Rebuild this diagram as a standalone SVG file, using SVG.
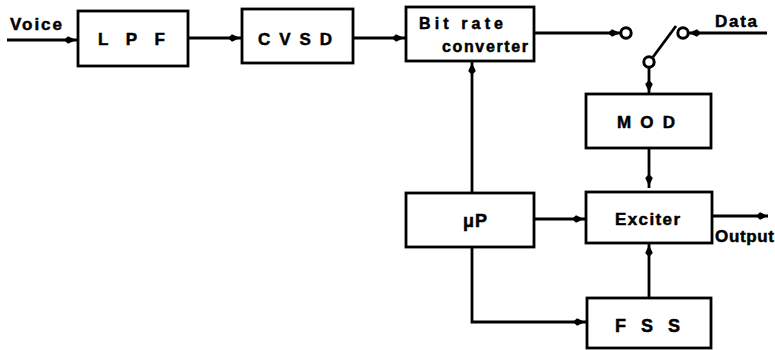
<svg xmlns="http://www.w3.org/2000/svg" width="775" height="350" viewBox="0 0 775 350">
  <style>
    .box { fill: #fff; stroke: #000; stroke-width: 2.8; }
    .lbl { font-family: "Liberation Sans", Arial, sans-serif; font-weight: bold; fill: #000; stroke: #000; stroke-width: 0.5; }
    .ln { fill: none; stroke: #000; stroke-width: 2.8; }
    .arr { fill: none; stroke: #000; stroke-width: 2.8; marker-end: url(#ah); }
    .arr0 { fill: none; stroke: #000; stroke-width: 2.8; marker-end: url(#ah0); }
    .term { fill: #fff; stroke: #000; stroke-width: 3; }
  </style>
  <defs>
    <marker id="ah" markerUnits="userSpaceOnUse" viewBox="-2 -6 18 12" refX="14" refY="0" markerWidth="18" markerHeight="12" orient="auto">
      <path d="M0,0 L4,-3.8 L12,0 L4,3.8 Z" fill="#000"/>
    </marker>
    <marker id="ah0" markerUnits="userSpaceOnUse" viewBox="-2 -6 18 12" refX="12" refY="0" markerWidth="18" markerHeight="12" orient="auto">
      <path d="M0,0 L4,-3.8 L12,0 L4,3.8 Z" fill="#000"/>
    </marker>
  </defs>
  <rect width="775" height="350" fill="#fff"/>

  <g id="connectors">
    <line class="arr" x1="7" y1="40" x2="78" y2="40"/>
    <line class="arr" x1="188" y1="38" x2="242" y2="38"/>
    <line class="arr" x1="353" y1="38" x2="406" y2="38"/>
    <line class="arr0" x1="534" y1="33" x2="620" y2="33"/>
    <line class="arr0" x1="767" y1="33" x2="689" y2="33"/>
    <line class="ln" x1="653" y1="57" x2="676" y2="26"/>
    <line class="arr" x1="649" y1="67" x2="649" y2="94"/>
    <line class="arr" x1="472" y1="193" x2="472" y2="61"/>
    <line class="arr" x1="649" y1="148" x2="649" y2="188"/>
    <line class="arr" x1="534" y1="219" x2="586" y2="219"/>
    <line class="arr0" x1="712" y1="216" x2="768" y2="216"/>
    <line class="arr" x1="649" y1="298" x2="649" y2="243"/>
    <polyline class="arr" points="472,247 472,322 587,322"/>
    <circle class="term" cx="626" cy="33" r="5.2"/>
    <circle class="term" cx="683" cy="33" r="5.2"/>
    <circle class="term" cx="649" cy="62" r="5.2"/>
  </g>

  <g id="lpf">
    <rect class="box" x="78" y="11" width="110" height="55"/>
    <text class="lbl" x="98" y="45" font-size="17" textLength="67" lengthAdjust="spacing">L P F</text>
  </g>
  <g id="cvsd">
    <rect class="box" x="242" y="9" width="111" height="54"/>
    <text class="lbl" x="258" y="45" font-size="17" textLength="74" lengthAdjust="spacing">CVSD</text>
  </g>
  <g id="bitrate">
    <rect class="box" x="406" y="7" width="128" height="54"/>
    <text class="lbl" x="419" y="29" font-size="16" textLength="84" lengthAdjust="spacing">Bit rate</text>
    <text class="lbl" x="442" y="52" font-size="16" textLength="86" lengthAdjust="spacing">converter</text>
  </g>
  <g id="mod">
    <rect class="box" x="586" y="94" width="125" height="54"/>
    <text class="lbl" x="617" y="128" font-size="17" textLength="58" lengthAdjust="spacing">MOD</text>
  </g>
  <g id="up">
    <rect class="box" x="406" y="193" width="128" height="54"/>
    <text class="lbl" x="463" y="227" font-size="18" textLength="24" lengthAdjust="spacing">μP</text>
  </g>
  <g id="exciter">
    <rect class="box" x="586" y="192" width="126" height="51"/>
    <text class="lbl" x="615" y="225" font-size="17" textLength="65" lengthAdjust="spacing">Exciter</text>
  </g>
  <g id="fss">
    <rect class="box" x="587" y="298" width="124" height="50"/>
    <text class="lbl" x="615" y="332" font-size="18" textLength="65" lengthAdjust="spacing">F S S</text>
  </g>
  <g id="labels">
    <text class="lbl" x="10" y="30" font-size="17" textLength="52" lengthAdjust="spacing">Voice</text>
    <text class="lbl" x="715" y="27" font-size="17" textLength="42" lengthAdjust="spacing">Data</text>
    <text class="lbl" x="715" y="242" font-size="17" textLength="59" lengthAdjust="spacing">Output</text>
  </g>
</svg>
